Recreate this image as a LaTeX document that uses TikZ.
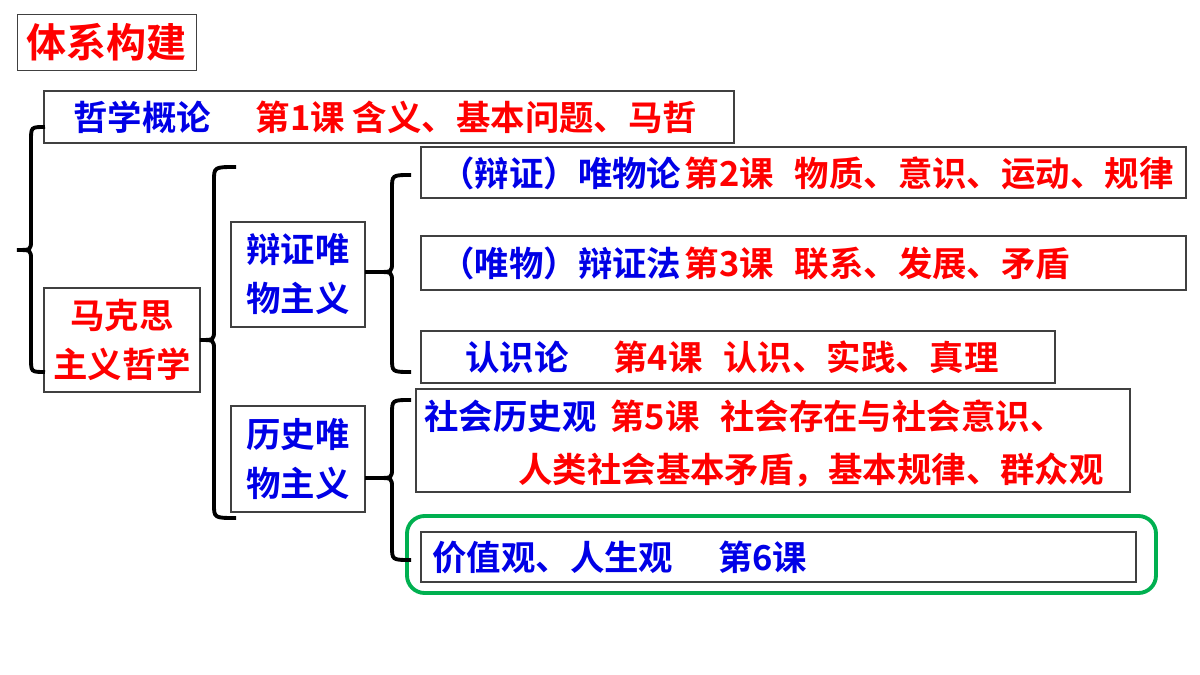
\documentclass[tikz,border=0pt]{standalone}
\usepackage{fontspec}
\setmainfont{Noto Sans CJK SC}[BoldFont={Noto Sans CJK SC Bold}]
\newfontfamily\cjk{Noto Sans CJK SC Bold}
\definecolor{myblue}{RGB}{0,0,230}
\definecolor{myred}{RGB}{255,0,0}
\definecolor{mygreen}{RGB}{0,176,80}
\begin{document}
\begin{tikzpicture}[x=0.02cm,y=-0.02cm,
  box/.style={draw=black!75,line width=0.8pt},
  txt/.style={font=\cjk\fontsize{19.6}{24}\selectfont,anchor=west,inner sep=0pt},
  two/.style={txt,anchor=center,align=center,font=\cjk\fontsize{19.6}{27.8}\selectfont},
  br/.style={line width=2.2pt,black}]
\useasboundingbox (0,0) rectangle (1200,675);
\newcommand\mybrace[5]{%
  \draw[br] (#1,#3) .. controls (#2,#3) .. (#2,#3+14) -- (#2,#4-10) .. controls (#2,#4) .. (#2-14,#4)
     .. controls (#2,#4) .. (#2,#4+10) -- (#2,#5-14) .. controls (#2,#5) .. (#1,#5);}
% title
\node[box,minimum width=179*0.02cm,minimum height=56*0.02cm,anchor=north west,inner sep=0pt] (t) at (17,14) {};
\node[txt,text=myred,font=\cjk\fontsize{22.8}{26}\selectfont] (tt) at (26,42) {体系构建};
% boxes
\draw[box] (44,91) rectangle (734,143);
\node[txt] (a) at (73,117) {\textcolor{myblue}{哲学概论}\hspace{1.3em}\textcolor{myred}{第1课 含义、基本问题、马哲}};
\draw[box] (44,288) rectangle (200,392);
\node[two,text=myred] (m) at (122,340) {马克思\\主义哲学};
\draw[box] (231,222) rectangle (365,327);
\node[two,text=myblue] (b) at (298,274) {辩证唯\\物主义};
\draw[box] (231,406) rectangle (365,512);
\node[two,text=myblue] (h) at (298,459) {历史唯\\物主义};
\draw[box] (421,147) rectangle (1186,198);
\node[txt] (c1) at (440,173) {\textcolor{myblue}{（辩证）唯物论}\hspace{0.1em}\textcolor{myred}{第2课\hspace{0.6em}物质、意识、运动、规律}};
\draw[box] (421,236) rectangle (1186,290);
\node[txt] (c2) at (440,263) {\textcolor{myblue}{（唯物）辩证法}\hspace{0.1em}\textcolor{myred}{第3课\hspace{0.6em}联系、发展、矛盾}};
\draw[box] (421,331) rectangle (1055,383);
\node[txt] (c3) at (465,357) {\textcolor{myblue}{认识论}\hspace{1.3em}\textcolor{myred}{第4课\hspace{0.6em}认识、实践、真理}};
\draw[box] (416,389) rectangle (1130,492);
\node[txt] (c4) at (424,416) {\textcolor{myblue}{社会历史观}\hspace{0.4em}\textcolor{myred}{第5课\hspace{0.6em}社会存在与社会意识、}};
\node[txt,text=myred] (c5) at (518,470) {人类社会基本矛盾，基本规律、群众观};
\draw[box] (421,532) rectangle (1136,582);
\draw[mygreen,line width=2.2pt,rounded corners=10pt] (407,516) rectangle (1156,593);
\node[txt,text=myblue] (c6) at (432,557) {价值观、人生观\hspace{1.3em}第6课};
% braces
\mybrace{45}{31}{127}{250}{372}
\mybrace{236}{214}{167}{340}{518}
\mybrace{411}{392}{175}{272}{372}
\draw[br] (200,340) -- (214,340);
\draw[br] (365,272) -- (380,272);
\draw[br] (411,400) .. controls (392,400) .. (392,414) -- (392,468) .. controls (392,478) .. (378,478) .. controls (392,478) .. (392,488) -- (392,546) .. controls (392,560) .. (411,560);
\draw[br] (365,478) -- (378,478);
\end{tikzpicture}
\end{document}
